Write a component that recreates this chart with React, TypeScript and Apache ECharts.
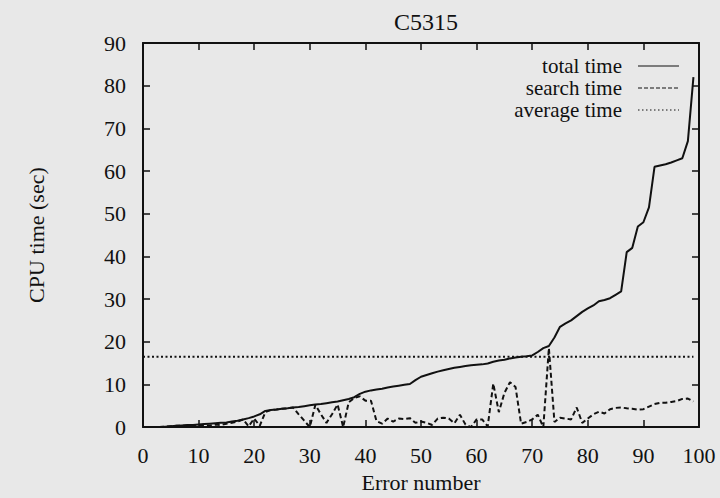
import React, { useEffect, useRef } from "react";
import * as echarts from "echarts";

const chartTitle = "C5315";
const seriesNames = ["total time", "search time", "average time"];
const xTickMin = 0;
const xTickMax = 100;
const xTickStep = 10;
const yTickMin = 0;
const yTickMax = 90;
const yTickStep = 10;

// total CPU time per error number (index 0..99)
const totalTime = [
  0, 0, 0, 0, 0.1, 0.2, 0.3, 0.4, 0.5, 0.5,
  0.6, 0.7, 0.8, 0.9, 1.0, 1.1, 1.3, 1.5, 1.8, 2.1,
  2.5, 3.0, 3.8, 4.0, 4.1, 4.3, 4.4, 4.6, 4.7, 4.9,
  5.1, 5.3, 5.4, 5.6, 5.8, 6.0, 6.3, 6.6, 7.0, 7.8,
  8.3, 8.6, 8.8, 9.0, 9.3, 9.5, 9.7, 9.9, 10.1, 11.0,
  11.8, 12.2, 12.6, 13.0, 13.3, 13.6, 13.9, 14.1, 14.3, 14.5,
  14.6, 14.7, 14.9, 15.3, 15.6, 15.8, 16.1, 16.3, 16.5, 16.6,
  16.8, 17.6, 18.5, 19.0, 21.0, 23.5, 24.3, 25.0, 26.0, 27.0,
  27.8, 28.5, 29.5, 29.8, 30.2, 31.0, 31.8, 41.0, 42.0, 47.0,
  48.0, 51.5, 61.0, 61.3, 61.6, 62.0, 62.5, 63.0, 67.0, 82.0,
];

// search time per error number (index 0..99)
const searchTime = [
  0, 0, 0, 0, 0.1, 0.2, 0.3, 0.3, 0.4, 0.4,
  0.5, 0.5, 0.3, 0.6, 0.5, 0.8, 1.0, 1.3, 1.8, 0.2,
  2.0, 0.3, 3.5, 4.0, 4.1, 4.3, 4.4, 4.6, 3.0, 1.5,
  0, 5.2, 3.0, 1.0, 3.0, 5.3, 0, 5.8, 6.8, 7.2,
  6.2, 6.2, 1.4, 0.8, 2.0, 1.3, 2.0, 1.9, 2.1, 1.0,
  1.3, 1.0, 0.5, 2.0, 2.2, 2.0, 0.9, 2.9, 0.6, 0,
  1.8, 1.8, 0.2, 10.2, 3.5, 8.0, 10.5, 9.4, 0.8, 1.2,
  1.8, 2.9, 0, 18.5, 1.2, 2.2, 2.0, 1.8, 4.6, 1.0,
  2.0, 3.0, 3.6, 3.2, 4.2, 4.5, 4.6, 4.4, 4.3, 4.1,
  4.2, 4.8, 5.4, 5.7, 5.7, 5.9, 6.1, 6.6, 6.7, 6.0,
];

const averageTime = 16.5;
const averageSpan = [0, 99];

export default function App() {
  const ref = useRef<HTMLDivElement>(null);

  useEffect(() => {
    document.body.style.margin = "0";
    document.body.style.background = "#e8e8e8";
    const chart = echarts.init(ref.current!, null, { renderer: "svg" });
    const font = "'Liberation Serif', 'Times New Roman', serif";
    const ink = "#111";
    const fs = 22;

    const axisCommon = {
      axisLine: { show: true, onZero: false, lineStyle: { color: ink, width: 2 } },
      axisTick: { show: true, inside: true, length: 7, lineStyle: { color: ink, width: 1.5 } },
      splitLine: { show: false },
    };

    const totalData = totalTime.map((v, i) => [i, v]);
    const searchData = searchTime.map((v, i) => [i, v]);
    const avgData = averageSpan.map((x) => [x, averageTime]);

    const legendRows = [
      { name: seriesNames[0], dash: null as number[] | null },
      { name: seriesNames[1], dash: [4, 2] },
      { name: seriesNames[2], dash: [1.5, 2.5] },
    ];
    const legendGraphics: any[] = [];
    legendRows.forEach((r, k) => {
      const y = 66 + k * 22;
      legendGraphics.push({
        type: "text",
        x: 622,
        y,
        style: {
          text: r.name,
          fill: ink,
          font: `21px ${font}`,
          lineHeight: 19,
          align: "right",
          verticalAlign: "middle",
        },
      });
      legendGraphics.push({
        type: "line",
        shape: { x1: 638, y1: y, x2: 679, y2: y },
        style: { stroke: ink, lineWidth: 1.2, lineDash: r.dash || undefined },
      });
    });

    chart.setOption({
      animation: false,
      backgroundColor: "#e8e8e8",
      textStyle: { fontFamily: font, color: ink },
      title: {
        text: chartTitle,
        left: 421,
        top: 5,
        textAlign: "center",
        textStyle: { fontFamily: font, fontSize: 24, fontWeight: "normal", color: ink },
      },
      grid: { left: 143, right: 21, top: 43, bottom: 62 },
      xAxis: [
        {
          type: "value",
          min: xTickMin,
          max: xTickMax,
          interval: xTickStep,
          position: "bottom",
          name: "Error number",
          nameLocation: "middle",
          nameGap: 38,
          nameTextStyle: { fontFamily: font, fontSize: fs, color: ink },
          axisLabel: { margin: 17, fontSize: fs, color: ink, fontFamily: font },
          ...axisCommon,
        },
        {
          type: "value",
          min: xTickMin,
          max: xTickMax,
          interval: xTickStep,
          position: "top",
          axisLabel: { show: false },
          ...axisCommon,
        },
      ],
      yAxis: [
        {
          type: "value",
          min: yTickMin,
          max: yTickMax,
          interval: yTickStep,
          position: "left",
          name: "CPU time (sec)",
          nameLocation: "middle",
          nameGap: 96,
          nameTextStyle: { fontFamily: font, fontSize: fs, color: ink },
          axisLabel: { margin: 17, fontSize: fs, color: ink, fontFamily: font },
          ...axisCommon,
        },
        {
          type: "value",
          min: yTickMin,
          max: yTickMax,
          interval: yTickStep,
          position: "right",
          axisLabel: { show: false },
          ...axisCommon,
        },
      ],
      series: [
        {
          name: seriesNames[0],
          type: "line",
          data: totalData,
          symbol: "none",
          lineStyle: { color: ink, width: 2 },
          z: 3,
        },
        {
          name: seriesNames[1],
          type: "line",
          data: searchData,
          symbol: "none",
          lineStyle: { color: ink, width: 2, type: [5, 3] },
          z: 2,
        },
        {
          name: seriesNames[2],
          type: "line",
          data: avgData,
          symbol: "none",
          lineStyle: { color: ink, width: 2, type: [2, 2.5] },
          z: 2,
        },
      ],
      graphic: legendGraphics,
    });

    return () => chart.dispose();
  }, []);

  return (
    <div
      ref={ref}
      style={{ position: "fixed", left: 0, top: 0, width: 720, height: 498 }}
    />
  );
}
